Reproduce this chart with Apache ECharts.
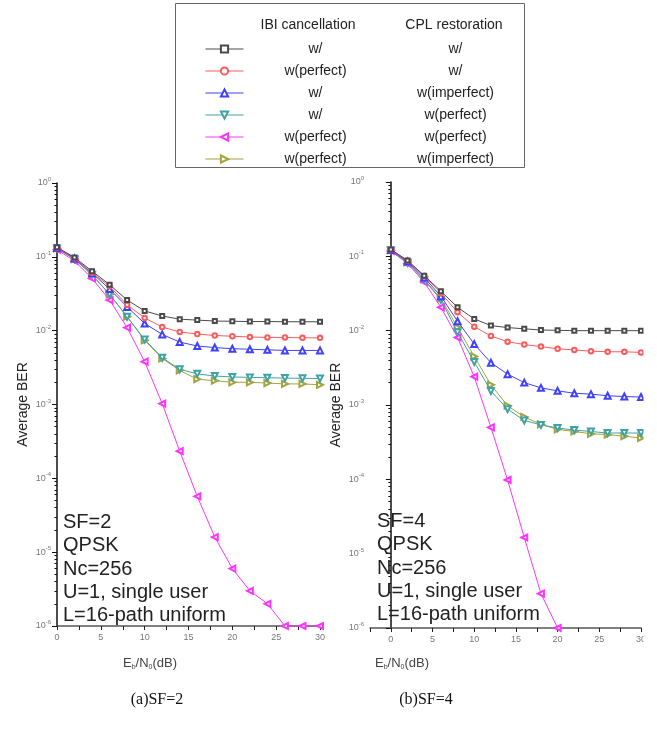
<!DOCTYPE html>
<html><head><meta charset="utf-8">
<script src="https://cdn.jsdelivr.net/npm/echarts@6/dist/echarts.min.js"></script>
<style>html,body{margin:0;padding:0;background:#fff}#c{width:657px;height:729px}</style>
</head><body><div id="c"></div>
<script>
const xs = [0,2,4,6,8,10,12,14,16,18,20,22,24,26,28,30];
const ibiLabels = ['w/','w(perfect)','w/','w/','w(perfect)','w(perfect)'];
const cplLabels = ['w/','w/','w(imperfect)','w(perfect)','w(perfect)','w(imperfect)'];
const colors = ['#4a4a4a','#ff5a5a','#4040ff','#3fa3a3','#ff33ff','#a3a340'];
const symbols = ['emptyRect','emptyCircle','emptyTriangle','emptyTriangle','emptyTriangle','emptyTriangle'];
const symbolSizes = [4,4.5,6,6,6,6];
const rotations = [0,0,0,180,90,-90];

// SF=2
const sf2_black  = [0.135,0.098,0.064,0.042,0.026,0.0185,0.0158,0.0143,0.0139,0.0135,0.0134,0.0133,0.0133,0.0132,0.0132,0.0132];
const sf2_red    = [0.133,0.096,0.061,0.040,0.0223,0.0149,0.0112,0.0096,0.0090,0.0086,0.0084,0.0082,0.0081,0.0081,0.0080,0.0080];
const sf2_blue   = [0.132,0.095,0.060,0.0367,0.021,0.0125,0.0089,0.0070,0.0062,0.0059,0.0057,0.0056,0.0055,0.0054,0.0054,0.0054];
const sf2_teal   = [0.130,0.093,0.057,0.031,0.0154,0.0076,0.0043,0.0030,0.0026,0.00243,0.00236,0.00233,0.0023,0.00228,0.00226,0.00225];
const sf2_mag    = [0.125,0.088,0.051,0.026,0.011,0.0038,0.00103,0.000233,0.000057,0.000016,0.000006,0.000003,0.000002,0.000001,0.000001,0.000001];
const sf2_olive  = [0.130,0.093,0.057,0.031,0.0155,0.0074,0.0042,0.0029,0.0022,0.0021,0.0020,0.0020,0.00195,0.0019,0.0019,0.00185];
// SF=4
const sf4_black  = [0.124,0.088,0.055,0.034,0.0206,0.0144,0.0117,0.0110,0.0106,0.0102,0.0101,0.0100,0.0100,0.0100,0.0100,0.0100];
const sf4_red    = [0.123,0.087,0.054,0.032,0.0177,0.0113,0.0085,0.0071,0.0065,0.0061,0.0057,0.0055,0.0053,0.0052,0.0052,0.0051];
const sf4_blue   = [0.122,0.085,0.052,0.029,0.0134,0.0066,0.0037,0.0026,0.0020,0.0017,0.00155,0.00144,0.0014,0.00133,0.0013,0.00128];
const sf4_teal   = [0.120,0.082,0.048,0.026,0.0095,0.0038,0.00154,0.00088,0.00062,0.00054,0.00049,0.00046,0.00044,0.00042,0.00042,0.00042];
const sf4_mag    = [0.118,0.080,0.045,0.0206,0.0081,0.0024,0.0005,0.000098,0.0000165,0.0000029,0.000001,null,null,null,null,null];
const sf4_olive  = [0.121,0.083,0.049,0.027,0.0111,0.0045,0.00187,0.00098,0.00069,0.00055,0.00047,0.00044,0.00041,0.0004,0.00038,0.00036];

const sf2 = [sf2_black, sf2_red, sf2_blue, sf2_teal, sf2_mag, sf2_olive];
const sf4 = [sf4_black, sf4_red, sf4_blue, sf4_teal, sf4_mag, sf4_olive];
const names = ibiLabels.map((a,i)=> a + ' | ' + cplLabels[i]);

const FONT = 'Liberation Sans, Arial, sans-serif';
function mkSeries(arr, gi){
  return arr.map((d,i)=>({
    name: names[i], type:'line', xAxisIndex:gi, yAxisIndex:gi,
    data: xs.map((x,k)=> d[k]==null ? [x,'-'] : [x,d[k]]),
    symbol: symbols[i], symbolRotate: rotations[i], symbolSize: symbolSizes[i],
    lineStyle:{width:1,color:colors[i]}, itemStyle:{color:colors[i], borderWidth:1},
    connectNulls:false, animation:false, z: 3 + (5-i)
  }));
}
const yLab = {
  fontSize: 9, color:'#777', fontFamily: FONT, margin: 6,
  formatter: v => { const e = Math.round(Math.log10(v)); return '10{s|' + e + '}'; },
  rich: { s: { fontSize: 6, color:'#777', verticalAlign:'bottom', padding:[0,0,7,0], fontFamily: FONT } }
};
const yAxisBase = (gi)=>({
  type:'log', logBase:10, min:1e-6, max:1, gridIndex:gi,
  axisLine:{show:true, lineStyle:{color:'#111', width:1.5}},
  axisTick:{show:true, inside:false, length:5, lineStyle:{color:'#111'}},
  minorTick:{show:true, splitNumber:9, length:2.5, lineStyle:{color:'#111'}},
  splitLine:{show:false}, axisLabel: yLab,
  name:'Average BER', nameLocation:'middle', nameGap:27,
  nameTextStyle:{fontSize:14, color:'#222', fontFamily:FONT}
});
const xLab = { fontSize:9, color:'#777', fontFamily:FONT, margin:7 };

const option = {
  animation:false,
  grid:[
    {left:57, top:183, width:263, height:443},
    {left:370, top:182, width:271, height:446}
  ],
  xAxis:[
    {type:'value', gridIndex:0, min:0, max:30, interval:5,
     axisLine:{lineStyle:{color:'#555', width:1.5}},
     axisTick:{length:4, lineStyle:{color:'#222'}},
     minorTick:{show:true, splitNumber:2, length:4, lineStyle:{color:'#222'}},
     splitLine:{show:false}, axisLabel:xLab},
    {type:'value', gridIndex:1, min:-2.5, max:30, interval:2.5,
     axisLine:{lineStyle:{color:'#555', width:1.5}},
     axisTick:{length:4, lineStyle:{color:'#222'}},
     splitLine:{show:false},
     axisLabel:Object.assign({}, xLab, {formatter: v => (Math.abs(v % 5) < 1e-9 ? String(v) : '')})}
  ],
  yAxis:[yAxisBase(0), yAxisBase(1)],
  legend:{
    data: names,
    orient:'vertical', left:200, top:37,
    itemWidth:38, itemHeight:9, itemGap:8,
    lineStyle:{width:1},
    formatter: n => { const i = names.indexOf(n); return '{a|' + ibiLabels[i] + '}{b|' + cplLabels[i] + '}'; },
    textStyle:{ fontFamily:FONT, fontSize:14, color:'#222',
      rich:{ a:{width:134, align:'center', fontSize:14, color:'#222', fontFamily:FONT},
             b:{width:146, align:'center', fontSize:14, color:'#222', fontFamily:FONT} } }
  },
  graphic:[
    {type:'rect', shape:{x:175.5, y:3.5, width:349, height:164}, style:{fill:'none', stroke:'#666', lineWidth:1}, z:0},
    {type:'text', x:308, y:25, style:{text:'IBI cancellation', fontSize:14, fontFamily:FONT, fill:'#222', align:'center', verticalAlign:'middle'}},
    {type:'text', x:454, y:25, style:{text:'CPL restoration', fontSize:14, fontFamily:FONT, fill:'#222', align:'center', verticalAlign:'middle'}},
    {type:'text', x:63, y:511, z:10, style:{text:'SF=2\nQPSK\nNc=256\nU=1, single user\nL=16-path uniform', fontSize:20, lineHeight:23.2, fontFamily:FONT, fill:'#222'}},
    {type:'text', x:377, y:510, z:10, style:{text:'SF=4\nQPSK\nNc=256\nU=1, single user\nL=16-path uniform', fontSize:20, lineHeight:23.2, fontFamily:FONT, fill:'#222'}},
    {type:'text', x:150, y:663, style:{text:'E{s|b}/N{s|0}(dB)', fontSize:13, fontFamily:FONT, fill:'#444', align:'center', verticalAlign:'middle',
      rich:{s:{fontSize:7, fill:'#444', verticalAlign:'top', padding:[9,0,0,0]}}}},
    {type:'text', x:402, y:663, style:{text:'E{s|b}/N{s|0}(dB)', fontSize:13, fontFamily:FONT, fill:'#444', align:'center', verticalAlign:'middle',
      rich:{s:{fontSize:7, fill:'#444', verticalAlign:'top', padding:[9,0,0,0]}}}},
    {type:'text', x:157, y:700, style:{text:'(a)SF=2', fontSize:16, fontFamily:'Liberation Serif, Times New Roman, serif', fill:'#111', align:'center', verticalAlign:'middle'}},
    {type:'text', x:426, y:700, style:{text:'(b)SF=4', fontSize:16, fontFamily:'Liberation Serif, Times New Roman, serif', fill:'#111', align:'center', verticalAlign:'middle'}},
    {type:'rect', shape:{x:643.5, y:170, width:20, height:500}, style:{fill:'#fff'}, z:100}
  ],
  series: mkSeries(sf2,0).concat(mkSeries(sf4,1))
};
const chart = echarts.init(document.getElementById('c'), null, {renderer:'canvas'});
chart.setOption(option);
</script>
</body></html>
